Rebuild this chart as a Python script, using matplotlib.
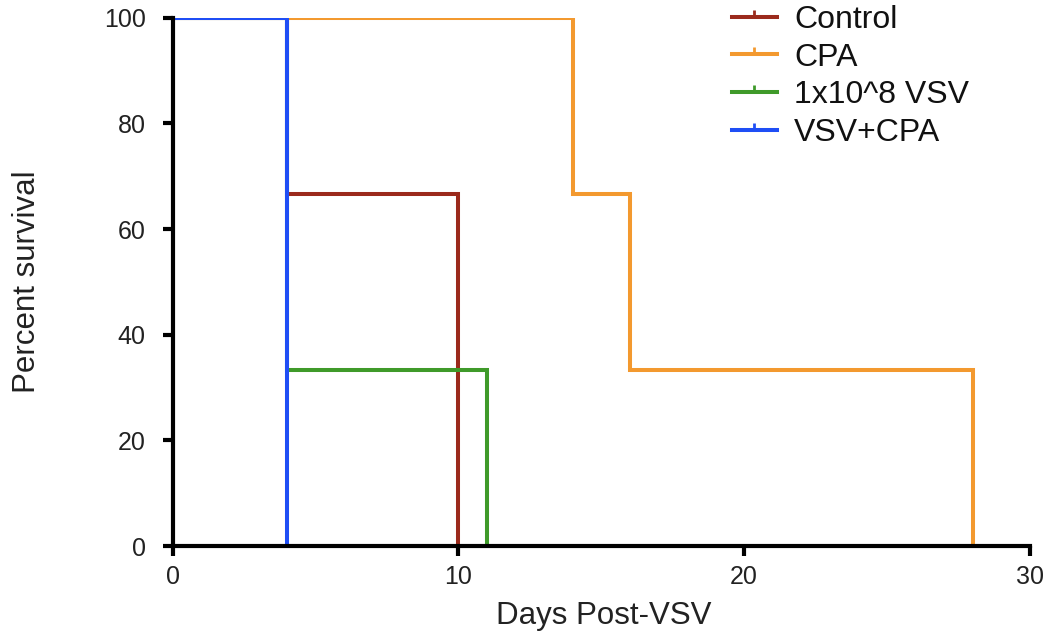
import matplotlib
matplotlib.use("Agg")
import matplotlib.pyplot as plt
from matplotlib.lines import Line2D

plt.rcParams['font.family'] = ['Liberation Sans', 'DejaVu Sans']

# Data: Kaplan-Meier step curves (time, percent survival)
groups = ["Control", "CPA", "1x10^8 VSV", "VSV+CPA"]
control_t = [0, 4, 10]
control_s = [100, 66.7, 0]
cpa_t = [0, 14, 16, 28]
cpa_s = [100, 66.7, 33.3, 0]
vsv_t = [0, 4, 11]
vsv_s = [100, 33.3, 0]
combo_t = [0, 4]
combo_s = [100, 0]
colors = ["#9b2a1c", "#f3992f", "#3f9a2a", "#1f4ef5"]

xticks = [0, 10, 20, 30]
yticks = [0, 20, 40, 60, 80, 100]

fig = plt.figure(figsize=(10.54, 6.35), dpi=100)
ax = fig.add_axes([0.164, 0.140, 0.813, 0.832])

series = [(control_t, control_s), (cpa_t, cpa_s), (vsv_t, vsv_s), (combo_t, combo_s)]
for (t, s), c, name in zip(series, colors, groups):
    ax.step(t, s, where='post', color=c, lw=2.9, solid_joinstyle='miter', zorder=3)

ax.set_xlim(0, 30)
ax.set_ylim(0, 100)
ax.set_xticks(xticks)
ax.set_yticks(yticks)
for sp in ['top', 'right']:
    ax.spines[sp].set_visible(False)
for sp in ['left', 'bottom']:
    ax.spines[sp].set_linewidth(3)
    ax.spines[sp].set_color('black')
    ax.spines[sp].set_zorder(4)
ax.tick_params(axis='both', direction='out', length=7.5, width=3, labelsize=18,
               colors='black', labelcolor='#222222', pad=6)
ax.tick_params(axis='y', pad=12)
ax.set_xlabel("Days Post-VSV", fontsize=22.5, color='#222222')
ax.set_ylabel("Percent survival", fontsize=22.5, color='#222222')
ax.xaxis.set_label_coords(0.503, -0.103)
ax.yaxis.set_label_coords(-0.153, 0.5)

handles = [Line2D([0], [0], color=c, lw=2.9, marker=2, markersize=5, markeredgewidth=2)
           for c in colors]
leg = fig.legend(handles, groups, loc='upper left',
                 bbox_to_anchor=(732 / 1054, 1 - 5 / 635),
                 frameon=False, fontsize=23, handlelength=1.4, handletextpad=0.55,
                 labelspacing=0.24, borderpad=0, borderaxespad=0)
for txt in leg.get_texts():
    txt.set_color('#111111')

fig.savefig("out.png", dpi=100)
